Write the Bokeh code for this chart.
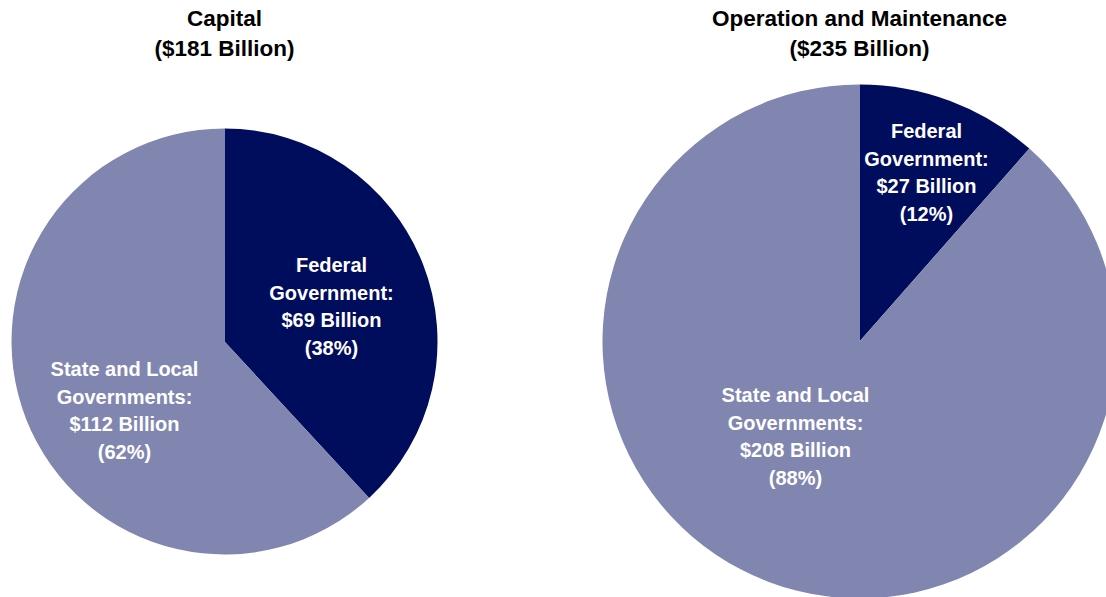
import math
from bokeh.plotting import figure
from bokeh.models import Range1d, ColumnDataSource
from bokeh.core.properties import value
from bokeh.embed import file_html
from bokeh.resources import INLINE

# ---- data ----
panels = ["Capital", "Operation and Maintenance"]
totals = [181, 235]
federal = [69, 27]
state_local = [112, 208]
federal_pct = [38, 12]
state_pct = [62, 88]

DARK = "#000C5C"
LIGHT = "#8186B0"
FONT = "Liberation Sans"

W, H = 1106, 597
p = figure(width=W, height=H, output_backend="svg", toolbar_location=None,
           x_range=Range1d(0, W), y_range=Range1d(0, H), min_border=0)
p.axis.visible = False
p.grid.visible = False
p.outline_line_color = None
p.background_fill_color = "white"
p.border_fill_color = "white"

# layout placements (plot units)
centers = [(224, 256), (859, 256)]
radii = [213, 257]
fed_label_pos = [(331, 291), (926, 425)]
st_label_pos = [(124, 187), (795, 161)]

for i in range(2):
    cx, cy = centers[i]
    tot = federal[i] + state_local[i]
    frac = federal[i] / tot
    top = math.pi / 2
    split = top - frac * 2 * math.pi
    src = ColumnDataSource(dict(
        x=[cx, cx], y=[cy, cy],
        start=[split, top], end=[top, split],
        color=[DARK, LIGHT],
    ))
    p.wedge(x="x", y="y", radius=radii[i], radius_units="screen",
            start_angle="start", end_angle="end", fill_color="color",
            line_color=None, source=src)

    fx, fy = fed_label_pos[i]
    p.text(x=[fx], y=[fy],
           text=[f"Federal\nGovernment:\n${federal[i]} Billion\n({federal_pct[i]}%)"],
           text_font=value(FONT), text_font_style="bold", text_font_size="20px",
           text_color="white", text_align="center", text_baseline="middle",
           text_line_height=1.27)
    sx, sy = st_label_pos[i]
    p.text(x=[sx], y=[sy],
           text=[f"State and Local\nGovernments:\n${state_local[i]} Billion\n({state_pct[i]}%)"],
           text_font=value(FONT), text_font_style="bold", text_font_size="20px",
           text_color="white", text_align="center", text_baseline="middle",
           text_line_height=1.27)

    p.text(x=[cx, cx], y=[579, 549],
           text=[panels[i], f"(${totals[i]} Billion)"],
           text_font=value(FONT), text_font_style="bold", text_font_size="22.5px",
           text_color="black", text_align="center", text_baseline="middle")

open("out.html", "w").write(file_html(p, INLINE))
